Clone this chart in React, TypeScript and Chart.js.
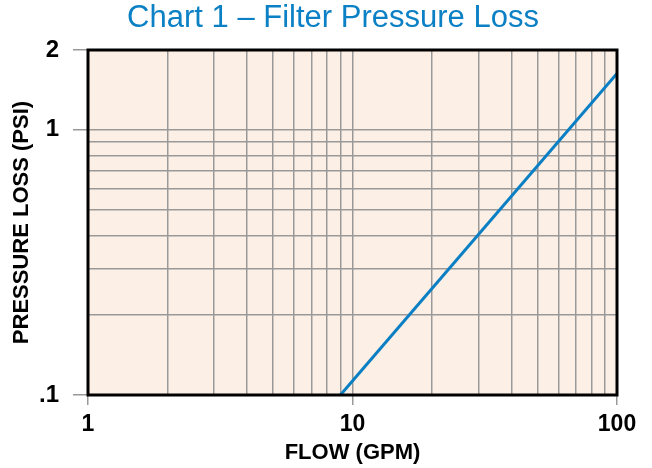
import React, { useEffect, useRef } from 'react';
import { Chart, registerables } from 'chart.js';

Chart.register(...registerables);

// ---- Data ----
const flowGpm = [9, 100];
const pressureLossPsi = [0.1, 1.63];

const xGridValues = [1, 2, 3, 4, 5, 6, 7, 8, 9, 10, 20, 30, 40, 50, 60, 70, 80, 90, 100];
const yGridValues = [0.1, 0.2, 0.3, 0.4, 0.5, 0.6, 0.7, 0.8, 0.9, 1, 2];

const xTickLabels: Record<string, string> = { '1': '1', '10': '10', '100': '100' };
const yTickLabels: Record<string, string> = { '0.1': '.1', '1': '1', '2': '2' };

const chartTitle = 'Chart 1 – Filter Pressure Loss';
const xAxisTitle = 'FLOW (GPM)';
const yAxisTitle = 'PRESSURE LOSS (PSI)';

const FONT = "'Liberation Sans', Arial, Helvetica, sans-serif";
const GRID = '#999999';
const CLEAR = 'rgba(0,0,0,0)';

const framePlugin = {
  id: 'frame',
  beforeDraw(chart: any) {
    const { ctx, chartArea } = chart;
    const { left, top, width, height } = chartArea;
    ctx.save();
    ctx.fillStyle = '#fcefe5';
    ctx.fillRect(left, top, width, height);
    ctx.restore();
  },
  afterDraw(chart: any) {
    const { ctx, chartArea } = chart;
    const { left, top, width, height } = chartArea;
    ctx.save();
    ctx.strokeStyle = '#000000';
    ctx.lineWidth = 3;
    ctx.strokeRect(left, top, width, height);
    ctx.restore();
  },
};

export default function App() {
  const canvasRef = useRef<HTMLCanvasElement | null>(null);

  useEffect(() => {
    if (!canvasRef.current) return;
    const chart = new Chart(canvasRef.current, {
      type: 'line',
      data: {
        datasets: [
          {
            label: 'Pressure loss',
            data: flowGpm.map((x, i) => ({ x, y: pressureLossPsi[i] })),
            borderColor: '#0a7fc4',
            borderWidth: 3,
            pointRadius: 0,
            fill: false,
            tension: 0,
          },
        ],
      },
      options: {
        animation: false,
        responsive: true,
        maintainAspectRatio: false,
        devicePixelRatio: 1,
        layout: { padding: { left: 14, right: 0, top: 0, bottom: 0 } },
        plugins: {
          legend: { display: false },
          tooltip: { enabled: false },
          title: {
            display: true,
            text: chartTitle,
            color: '#0b80c5',
            font: { family: FONT, size: 31, weight: 'normal' },
            padding: { top: 0, bottom: 12.8 },
          },
        },
        scales: {
          x: {
            type: 'logarithmic',
            min: 1,
            max: 100,
            afterBuildTicks(scale: any) {
              scale.ticks = xGridValues.map((v) => ({ value: v }));
            },
            afterFit(scale: any) {
              scale.height = 73;
            },
            ticks: {
              autoSkip: false,
              maxRotation: 0,
              padding: 6,
              color: '#000000',
              font: { family: FONT, size: 23, weight: 'bold' },
              callback: (value: any) => xTickLabels[String(value)] ?? '',
            },
            grid: {
              color: GRID,
              lineWidth: 1.5,
              tickLength: 10,
              tickWidth: 1.5,
              tickColor: (ctx: any) => (xTickLabels[String(ctx.tick?.value)] ? GRID : CLEAR),
            },
            border: { display: false },
            title: {
              display: true,
              text: xAxisTitle,
              color: '#000000',
              font: { family: FONT, size: 22, weight: 'bold' },
              padding: { top: 0, bottom: 2 },
            },
          },
          y: {
            type: 'logarithmic',
            min: 0.1,
            max: 2,
            afterBuildTicks(scale: any) {
              scale.ticks = yGridValues.map((v) => ({ value: v }));
            },
            afterFit(scale: any) {
              scale.width = 74;
            },
            ticks: {
              autoSkip: false,
              padding: 14,
              color: '#000000',
              font: { family: FONT, size: 24, weight: 'bold' },
              callback: (value: any) => yTickLabels[String(value)] ?? '',
            },
            grid: {
              color: GRID,
              lineWidth: 1.5,
              tickLength: 15,
              tickWidth: 1.5,
              tickColor: (ctx: any) => (yTickLabels[String(ctx.tick?.value)] ? GRID : CLEAR),
            },
            border: { display: false },
            title: {
              display: true,
              text: yAxisTitle,
              color: '#000000',
              font: { family: FONT, size: 22, weight: 'bold' },
              padding: { top: -5, bottom: 0 },
            },
          },
          yRight: {
            type: 'linear',
            position: 'right',
            display: true,
            afterFit(scale: any) {
              scale.width = 35;
            },
            ticks: { display: false },
            grid: { display: false },
            border: { display: false },
          },
        },
      },
      plugins: [framePlugin],
    } as any);
    return () => chart.destroy();
  }, []);

  return (
    <div style={{ position: 'fixed', left: 0, top: 0, width: 652, height: 468, background: '#ffffff' }}>
      <canvas ref={canvasRef} />
    </div>
  );
}
